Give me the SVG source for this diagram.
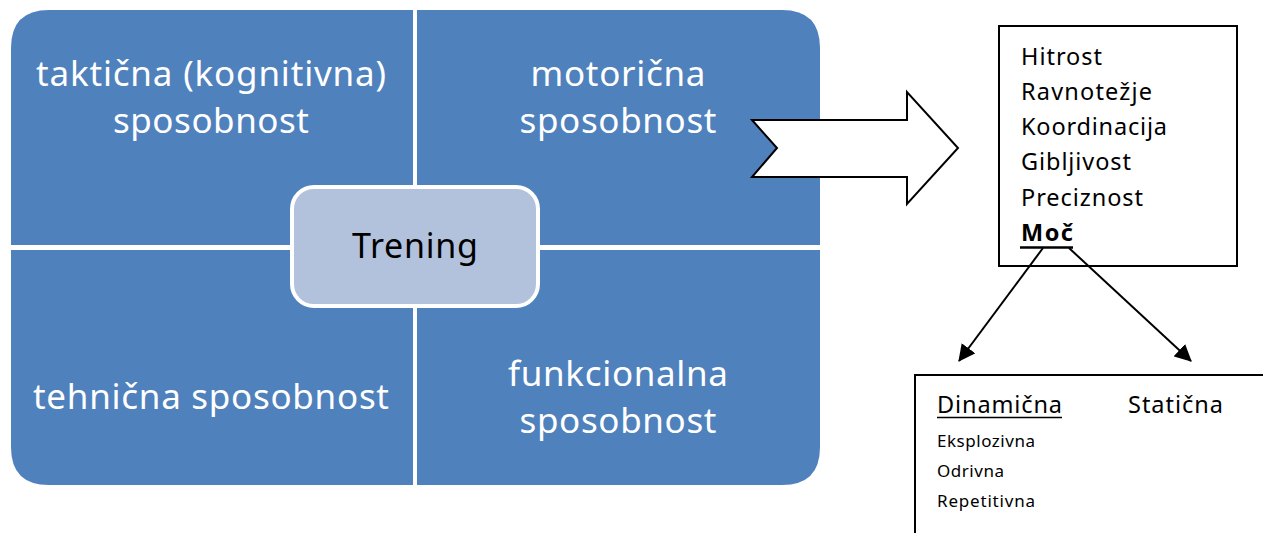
<svg xmlns="http://www.w3.org/2000/svg" width="1263" height="533" viewBox="0 0 1263 533">
  <defs>
    <style>
      .quad { fill: #4F81BD; }
      .qtext { font-family: "Noto Sans", "Open Sans", "Liberation Sans", sans-serif; font-size: 35px; fill: #FFFFFF; text-anchor: middle; }
      .ctext { font-family: "Noto Sans", "Open Sans", "Liberation Sans", sans-serif; font-size: 34px; fill: #000000; text-anchor: middle; }
      .ltext { font-family: "Noto Sans", "Open Sans", "Liberation Sans", sans-serif; font-size: 23.5px; fill: #000000; }
      .stext { font-family: "Noto Sans", "Open Sans", "Liberation Sans", sans-serif; font-size: 17px; fill: #000000; }
      .box { fill: #FFFFFF; stroke: #000000; stroke-width: 2; }
      .conn { stroke: #000000; stroke-width: 2; fill: none; }
    </style>
    <marker id="head" viewBox="0 0 16 16" refX="15" refY="8" markerWidth="17" markerHeight="17" markerUnits="userSpaceOnUse" orient="auto">
      <path d="M0,0 L16,8 L0,16 z" fill="#000000"/>
    </marker>
  </defs>

  <!-- four ability quadrants -->
  <g id="takticna">
    <path class="quad" d="M49,10 H413 V245 H11 V48 Q11,10 49,10 Z"/>
    <text class="qtext" x="211" y="86" textLength="350">taktična (kognitivna)</text>
    <text class="qtext" x="211" y="133" textLength="196">sposobnost</text>
  </g>
  <g id="motoricna">
    <path class="quad" d="M417,10 H782 Q820,10 820,48 V245 H417 Z"/>
    <text class="qtext" x="618" y="86" textLength="175">motorična</text>
    <text class="qtext" x="618" y="133" textLength="197">sposobnost</text>
  </g>
  <g id="tehnicna">
    <path class="quad" d="M11,250 H413 V485 H49 Q11,485 11,447 Z"/>
    <text class="qtext" x="211" y="409" textLength="356">tehnična sposobnost</text>
  </g>
  <g id="funkcionalna">
    <path class="quad" d="M417,250 H820 V447 Q820,485 782,485 H417 Z"/>
    <text class="qtext" x="618" y="386" textLength="220">funkcionalna</text>
    <text class="qtext" x="618" y="433" textLength="197">sposobnost</text>
  </g>

  <!-- central node -->
  <g id="trening">
    <rect x="292" y="187" width="246" height="119" rx="22" ry="22" fill="#B3C2DC" stroke="#FFFFFF" stroke-width="4"/>
    <text class="ctext" x="415" y="258" textLength="126">Trening</text>
  </g>

  <!-- motor abilities list -->
  <g id="motoricne-lastnosti">
    <rect class="box" x="999" y="26" width="238" height="240"/>
    <text class="ltext" x="1021" y="65" textLength="81">Hitrost</text>
    <text class="ltext" x="1021" y="100" textLength="131">Ravnotežje</text>
    <text class="ltext" x="1021" y="135" textLength="146">Koordinacija</text>
    <text class="ltext" x="1021" y="170" textLength="110">Gibljivost</text>
    <text class="ltext" x="1021" y="206" textLength="122">Preciznost</text>
    <text class="ltext" x="1021" y="241" font-weight="bold" textLength="52">Moč</text>
    <line x1="1020" y1="247.5" x2="1073" y2="247.5" stroke="#000000" stroke-width="2.5"/>
  </g>

  <!-- strength types -->
  <g id="vrste-moci">
    <rect class="box" x="915" y="375" width="360" height="170"/>
    <text class="ltext" x="937" y="413" textLength="125">Dinamična</text>
    <line x1="937" y1="417.5" x2="1062" y2="417.5" stroke="#000000" stroke-width="1.5"/>
    <text class="ltext" x="1128" y="413" textLength="95">Statična</text>
    <text class="stext" x="937" y="447" textLength="98">Eksplozivna</text>
    <text class="stext" x="937" y="477" textLength="67">Odrivna</text>
    <text class="stext" x="937" y="507" textLength="98">Repetitivna</text>
  </g>

  <!-- connectors -->
  <g id="connectors">
    <path d="M752,120 H907 V92 L958,148 L907,204 V177 H752 L777,148 Z" fill="#FFFFFF" stroke="#000000" stroke-width="2" stroke-linejoin="miter"/>
    <line class="conn" x1="1043" y1="248" x2="959" y2="361" marker-end="url(#head)"/>
    <line class="conn" x1="1069" y1="248" x2="1191" y2="361" marker-end="url(#head)"/>
  </g>
</svg>
